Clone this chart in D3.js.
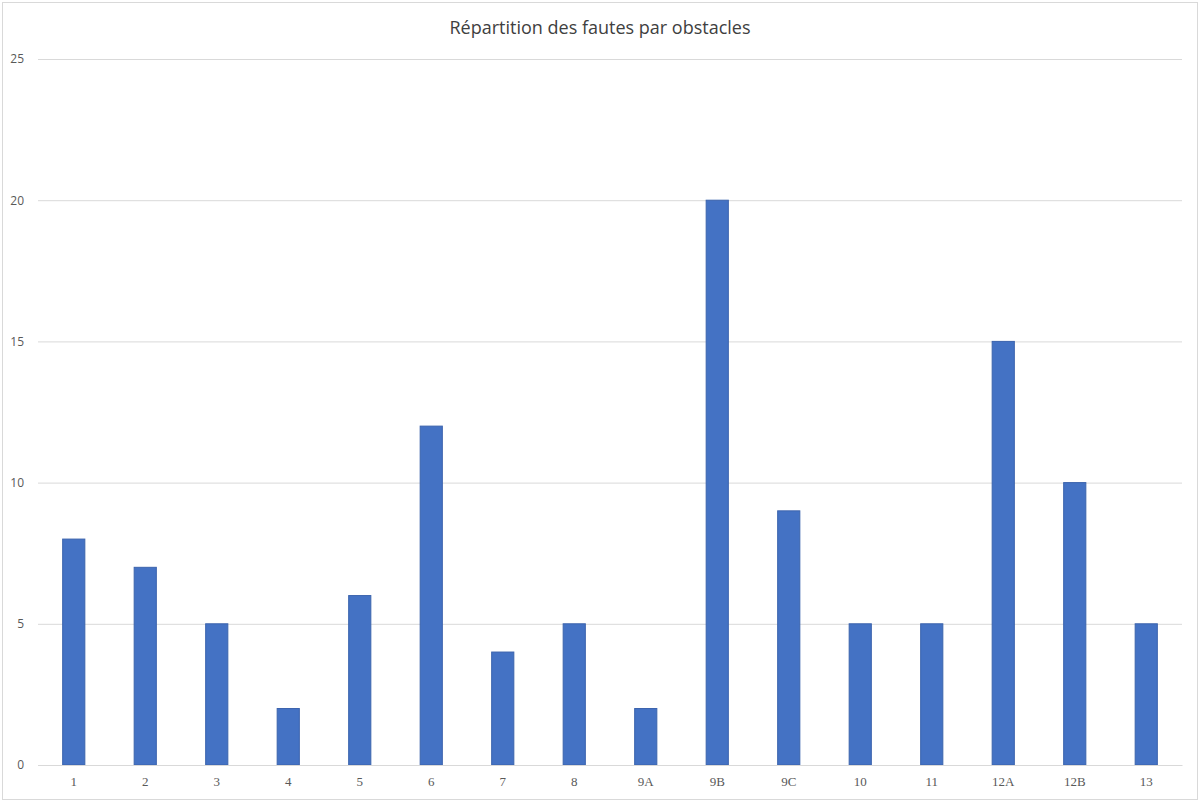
<!DOCTYPE html>
<html>
<head>
<meta charset="utf-8">
<script src="https://cdn.jsdelivr.net/npm/d3@7"></script>
<style>
  body { margin: 0; background: #fff; }
  svg { display: block; }
</style>
</head>
<body>
<div id="chart"></div>
<script>
// data
var obstacles = ["1", "2", "3", "4", "5", "6", "7", "8", "9A", "9B", "9C", "10", "11", "12A", "12B", "13"];
var fautes = [8, 7, 5, 2, 6, 12, 4, 5, 2, 20, 9, 5, 5, 15, 10, 5];
var yTicks = [0, 5, 10, 15, 20, 25];

var svgWidth = 1200, svgHeight = 804;
var margin = {top: 59, right: 18, bottom: 39, left: 38};
var width = svgWidth - margin.left - margin.right;
var height = svgHeight - margin.top - margin.bottom;

var svg = d3.select("#chart").append("svg")
  .attr("width", svgWidth)
  .attr("height", svgHeight);

// frame
svg.append("rect")
  .attr("x", 2.5).attr("y", 2.5)
  .attr("width", svgWidth - 5).attr("height", svgHeight - 7)
  .attr("fill", "none").attr("stroke", "#d9d9d9");

svg.append("text")
  .attr("x", svgWidth / 2).attr("y", 34)
  .attr("text-anchor", "middle")
  .attr("font-family", "Open Sans, sans-serif")
  .attr("font-size", "18px")
  .attr("fill", "#404040")
  .text("Répartition des fautes par obstacles");

var g = svg.append("g").attr("transform", `translate(${margin.left}, ${margin.top})`);

var x = d3.scaleBand().domain(obstacles).range([0, width]).paddingInner(0.69).paddingOuter(0.345);
var y = d3.scaleLinear().domain([0, 25]).range([height, 0]);

// gridlines + y labels
var yAxis = g.append("g")
  .call(d3.axisLeft(y).tickValues(yTicks).tickSize(-width).tickPadding(14));
yAxis.select(".domain").remove();
yAxis.selectAll("line").attr("stroke", "#d9d9d9");
yAxis.selectAll("text")
  .attr("font-family", "Open Sans, sans-serif")
  .attr("font-size", "12px")
  .attr("fill", "#595959");

// bars
g.selectAll("rect.bar")
  .data(fautes)
  .enter().append("rect")
  .attr("class", "bar")
  .attr("x", (d, i) => x(obstacles[i]))
  .attr("y", d => y(d))
  .attr("width", x.bandwidth())
  .attr("height", d => height - y(d))
  .attr("fill", "#4472c4")
  .attr("stroke", "#3b63ad")
  .attr("stroke-width", 1);

// x axis
var xAxis = g.append("g")
  .attr("transform", `translate(0, ${height})`)
  .call(d3.axisBottom(x).tickSize(0).tickPadding(12));
xAxis.select(".domain").attr("stroke", "#d9d9d9");
xAxis.selectAll("text")
  .attr("font-family", "Liberation Serif, serif")
  .attr("font-size", "13px")
  .attr("fill", "#595959");
</script>
</body>
</html>
